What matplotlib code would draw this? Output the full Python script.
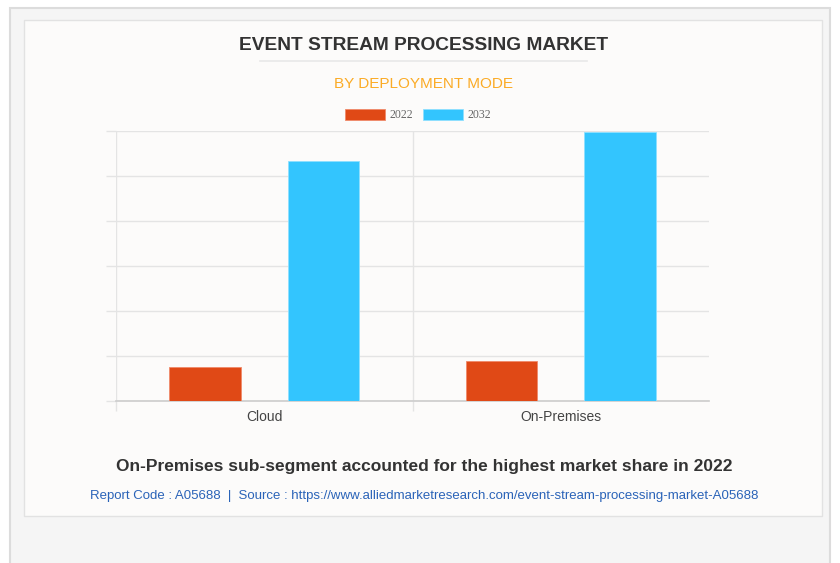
"""
Event stream processing market, by deployment mode: grouped bars 2022 vs 2032.
"""

import numpy as np
import matplotlib
matplotlib.use("Agg")
import matplotlib.pyplot as plt
from matplotlib.patches import Rectangle, Patch
from matplotlib.lines import Line2D

# values (gridline units, axis unlabeled)
categories = ["Cloud", "On-Premises"]
years = ["2022", "2032"]
values_2022 = [0.75, 0.90]
values_2032 = [5.34, 5.98]

title = "EVENT STREAM PROCESSING MARKET"
subtitle = "BY DEPLOYMENT MODE"
caption = "On-Premises sub-segment accounted for the highest market share in 2022"
source = ("Report Code : A05688  |  Source : "
          "https://www.alliedmarketresearch.com/event-stream-processing-market-A05688")

c_2022 = "#e04916"
c_2032 = "#33c5fe"
grid_c = "#e4e4e4"

W, H = 840, 563
fig = plt.figure(figsize=(W / 100, H / 100), dpi=100)
fig.patch.set_facecolor("white")


def fx(px):
    return px / W


def fy(py):
    return 1 - py / H


# outer panel and card (behind the axes)
fig.patches.append(Rectangle((fx(10), fy(575)), fx(820), (575 - 8) / H,
                             transform=fig.transFigure, facecolor="#f5f5f5",
                             edgecolor="#dcdcdc", lw=1.5, zorder=-3))
fig.patches.append(Rectangle((fx(24), fy(516)), fx(798), (516 - 20) / H,
                             transform=fig.transFigure, facecolor="#fcfbfa",
                             edgecolor="#e2e2e2", lw=1.0, zorder=-2))

# titles
fig.text(fx(424), fy(45), title, ha="center", va="center", fontsize=13.8,
         fontweight="bold", color="#333333", family="Liberation Sans")
fig.lines.append(Line2D([fx(260), fx(587)], [fy(61), fy(61)],
                        transform=fig.transFigure, color="#e8e8e8", lw=1.2))
fig.text(fx(424), fy(84), subtitle, ha="center", va="center", fontsize=11,
         color="#fbab25", family="Liberation Sans")

# axes
ax = fig.add_axes([fx(116), fy(401), fx(709) - fx(116), (401 - 131) / H])
ax.set_facecolor("none")

x = np.arange(len(categories))
bw = 0.24
off = 0.2
ax.bar(x - off, values_2022, bw, color=c_2022, edgecolor="#f08a6a", lw=0.6,
       zorder=3, label=years[0])
ax.bar(x + off, values_2032, bw, color=c_2032, edgecolor="#8ee0ff", lw=0.6,
       zorder=3, label=years[1])

ax.set_xlim(-0.5, 1.5)
ax.set_ylim(0, 6)
ax.set_yticks(np.arange(0, 7, 1))
ax.set_yticklabels([])
ax.set_xticks(x)
ax.set_xticklabels(categories, fontsize=10, color="#444444",
                   family="Liberation Sans")
ax.set_xticks([-0.5, 0.5], minor=True)

for s in ["top", "right", "left"]:
    ax.spines[s].set_visible(False)
ax.spines["bottom"].set_color("#cccccc")
ax.spines["bottom"].set_linewidth(1.2)

ax.grid(axis="y", color=grid_c, lw=1.0, zorder=0)
ax.grid(axis="x", which="minor", color=grid_c, lw=1.0, zorder=0)
ax.tick_params(axis="y", length=7.5, color=grid_c, width=1.0)
ax.tick_params(axis="x", which="major", length=0, pad=6.5)
ax.tick_params(axis="x", which="minor", length=7, color=grid_c, width=1.0)

handles = [Patch(facecolor=c_2022, edgecolor="#f08a6a", lw=0.6),
           Patch(facecolor=c_2032, edgecolor="#8ee0ff", lw=0.6)]
leg = fig.legend(handles, years, loc="center", bbox_to_anchor=(fx(418), fy(115)),
                 ncol=2, frameon=False, handlelength=3.4,
                 handleheight=1.1, handletextpad=0.4, columnspacing=0.8,
                 prop={"family": "Liberation Serif", "size": 8.5})
for t in leg.get_texts():
    t.set_color("#666666")

# footer
fig.text(fx(424), fy(467), caption, ha="center", va="center", fontsize=12.5,
         fontweight="bold", color="#333333", family="Liberation Sans")
fig.text(fx(424), fy(496), source, ha="center", va="center", fontsize=9.5,
         color="#2a63b8", family="Liberation Sans")

fig.savefig("out.png", dpi=100, facecolor=fig.get_facecolor())
plt.close(fig)
